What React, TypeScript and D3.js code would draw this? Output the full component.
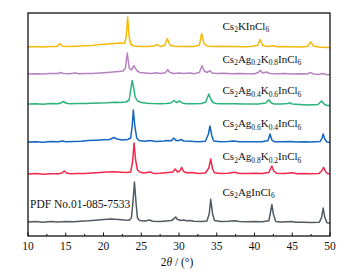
import React from "react";
import * as d3 from "d3";

const W = 354;
const H = 277;
const margin = { left: 28, right: 24, top: 13, bottom: 41 };

const xTicks = [10, 15, 20, 25, 30, 35, 40, 45, 50];
const xMinorTicks = [12.5, 17.5, 22.5, 27.5, 32.5, 37.5, 42.5, 47.5];

const seriesNames = ["Cs2AgInCl6", "Cs2Ag0.8K0.2InCl6", "Cs2Ag0.6K0.4InCl6", "Cs2Ag0.4K0.6InCl6", "Cs2Ag0.2K0.8InCl6", "Cs2KInCl6"];
const seriesColors = ["#4f5a62", "#f0284c", "#1466c0", "#2bb37a", "#b882c2", "#f6b90a"];
const seriesOffsets = [14, 62, 94, 132, 162, 189];

// [2θ, relative intensity]
const grayData: [number, number][] = [
  [10, 0], [11, 0.5], [12, -0.3], [13, 0.4], [14, 0], [15, 0.6], [16, 0.2], [17, 0.8], [18, 1.2], [19, 1.8],
  [20, 2.5], [21, 3], [22, 2.6], [22.8, 2], [23.4, 1.8], [23.7, 4], [23.9, 20], [24.1, 40], [24.3, 20], [24.5, 4],
  [24.8, 1.5], [25.5, 1], [26.1, 2], [26.5, 0.8], [27.5, 0.5], [28.3, 1], [29, 1.5], [29.3, 3], [29.55, 5], [29.8, 2.5],
  [30.3, 1.5], [30.6, 2], [31, 1.2], [31.5, 1.6], [32, 0.8], [33, 0.5], [33.7, 1], [34.0, 8], [34.2, 22.7], [34.45, 8],
  [34.7, 1.5], [35.5, 0.5], [36.5, 0.8], [37.4, 1.3], [38, 0.5], [39, 0.3], [40, 0.4], [41, 0.2], [41.9, 1.2], [42.1, 9],
  [42.3, 17.4], [42.5, 8], [42.8, 0.6], [43.5, 0], [44.9, 0.6], [45.5, -0.3], [46.5, -0.2], [47.5, -0.5], [48.6, -0.3], [48.9, 5],
  [49.1, 14], [49.3, 5], [49.6, -0.8], [50, -1]
];
const redData: [number, number][] = [
  [10, 0], [11, 0.4], [12, -0.2], [13, 0.3], [14, 0.2], [14.5, 1], [14.8, 3], [15.1, 1], [15.6, 0.3], [16.5, 0.6],
  [17.5, 0.4], [18.5, 1], [19.5, 1.5], [20.5, 2], [21.5, 2.2], [22.3, 1.8], [23, 1.5], [23.6, 2], [23.85, 12], [24.05, 31],
  [24.25, 14], [24.5, 4], [24.8, 2], [25.3, 1], [26.2, 2], [26.6, 0.6], [27.5, 0.8], [28.5, 1.5], [29.2, 2], [29.5, 5],
  [29.8, 2], [30.1, 3], [30.35, 6.7], [30.6, 2.5], [31, 1.2], [31.8, 1.5], [32.5, 0.5], [33.5, 1], [33.95, 6], [34.2, 15],
  [34.45, 5], [34.7, 1.2], [35.5, 0.5], [36.5, 0.8], [37.4, 1.8], [38, 0.5], [39, 0.5], [40, 0.8], [41, 0.4], [41.9, 1.5],
  [42.1, 5], [42.3, 8], [42.55, 3], [42.9, 0.8], [44, 0.5], [45, 1.2], [45.6, 0.3], [46.5, 0.4], [47.5, 0.3], [48.5, 0.4],
  [48.9, 3], [49.15, 6.7], [49.4, 2.5], [49.7, 0.3], [50, 0.3]
];
const blueData: [number, number][] = [
  [10, 0], [11, 0.3], [12, -0.3], [13, 0.5], [14, 0.2], [14.6, 1], [15, 0.3], [16, 0.5], [17, 0.8], [18, 1.5],
  [19, 1.8], [20, 2.2], [20.8, 2.5], [21.4, 4.5], [21.8, 3], [22.5, 2], [23.2, 2.5], [23.6, 4], [23.8, 16], [23.95, 32],
  [24.15, 16], [24.4, 4], [24.7, 1.5], [25.5, 0.8], [26.2, 1.5], [27, 0.5], [28, 1], [28.5, 1.5], [29, 1.2], [29.3, 4],
  [29.6, 1.5], [30, 1.5], [30.3, 2.5], [30.6, 1], [31.5, 0.8], [32.5, 0.3], [33.5, 0.8], [33.9, 8], [34.1, 16], [34.35, 6],
  [34.6, 1], [35.5, 0.3], [36.5, 0.5], [37.2, 1], [38, 0.2], [39, 0.3], [40, 0.3], [41, 0.2], [41.8, 1.5], [42.05, 8],
  [42.3, 2], [42.6, 0.3], [43.5, 0.2], [44.8, 0.6], [45.5, 0], [46.5, 0.2], [47.5, 0], [48.7, 0.6], [48.95, 4], [49.1, 8],
  [49.3, 3], [49.6, 0], [50, -0.5]
];
const greenData: [number, number][] = [
  [10, 0], [11, 0.3], [12, -0.2], [13, 0.4], [14, 0.3], [14.4, 1.2], [14.7, 2.5], [15, 1], [15.5, 0.2], [16.5, 0.4],
  [17.5, 0.6], [18.5, 0.8], [19.5, 1], [20.5, 1.3], [21.5, 1.8], [22.2, 1.6], [23, 2], [23.4, 4], [23.6, 14], [23.8, 23.6],
  [24.0, 16], [24.2, 7], [24.5, 3], [25, 1.5], [25.8, 0.8], [26.5, 0.5], [27.5, 0.3], [28.3, 0.6], [28.9, 1], [29.35, 3.5],
  [29.65, 1.5], [30.1, 3], [30.4, 1], [31, 0.3], [32, 0.2], [33, 0.5], [33.55, 2], [33.95, 10], [34.2, 5], [34.5, 1.5],
  [34.9, 0.5], [35.5, 0.2], [36.5, 0.3], [37.5, 0.3], [38.5, 0], [39.5, 0], [40.5, 0], [41.5, 1], [41.9, 4.3], [42.2, 1.2],
  [42.6, 0], [43.5, 0], [44.4, 0.5], [44.7, 1.2], [45, 0], [46, -0.5], [47, -1], [48.4, -0.5], [48.9, 3], [49.2, 0],
  [49.6, -1.5], [50, -1.5]
];
const purpleData: [number, number][] = [
  [10, 0], [11, 0.3], [12, 0], [13, 0.5], [14, 0.5], [14.3, 1.5], [14.7, 0.5], [15.5, 0.3], [16.3, 1], [16.7, 0.3],
  [17.5, 0.6], [18.5, 0.5], [19.5, 1], [20.5, 1.5], [21.3, 2], [22, 2.5], [22.6, 3], [22.9, 6], [23.15, 21], [23.4, 6],
  [23.7, 4], [24.05, 8.3], [24.4, 3.5], [24.8, 1.5], [25.5, 1], [26.3, 0.5], [27, 1.2], [27.5, 0.4], [28.2, 1.2], [28.5, 4.3],
  [28.8, 1.5], [29.3, 0.5], [30, 1], [30.6, 0.5], [31.5, 1], [32, 0.3], [32.7, 1.5], [33.05, 8.3], [33.35, 3], [33.7, 1.5],
  [34.1, 3.3], [34.4, 1], [35, 0.5], [36, 0.8], [37, 0.3], [38, 0.5], [39, 0.2], [40, 0.3], [40.5, 1.5], [40.75, 3.6],
  [41.1, 1], [41.6, 2], [42, 0.5], [43, 0.3], [44, 0.5], [45, 0], [46, 0.3], [47, 0], [47.4, 1.6], [47.8, 0],
  [48.5, -0.5], [49, 0.5], [49.5, -0.5], [50, -0.7]
];
const yellowData: [number, number][] = [
  [10, 0], [11, 0.4], [12, 0], [13, 0.5], [13.8, 0.6], [14.2, 3.4], [14.6, 0.8], [15.5, 0.5], [16.5, 0.8], [17.5, 1.2],
  [18.5, 1.5], [19.5, 2.5], [20.5, 3], [21.5, 3.5], [22.3, 4], [22.8, 3.5], [23.0, 10], [23.2, 30], [23.4, 10], [23.6, 3],
  [24, 1], [25, 0.5], [26, 0.6], [26.7, 1], [27.1, 2.4], [27.5, 0.6], [28.1, 1.5], [28.45, 8.4], [28.8, 2], [29.3, 0.8],
  [30, 0.5], [31, 0.4], [32, 0.5], [32.7, 2], [33.0, 13.4], [33.3, 4], [33.7, 1], [34.5, 0.5], [35.5, 0.8], [36.5, 0.4],
  [37.5, 0.5], [38.5, 0.3], [39.5, 0.4], [40.4, 1.5], [40.75, 7.4], [41.1, 1.5], [41.8, 0.5], [42.5, 1.2], [43, 0.3], [44, 0.5],
  [45, 0.2], [46, 0], [47, 0.5], [47.45, 5], [47.8, 1], [48.5, 0], [49.5, -0.5], [50, -0.6]
];
const seriesData = [grayData, redData, blueData, greenData, purpleData, yellowData];

// label parts: [text, isSub]
const labelParts: [string, boolean][][] = [
  [["Cs", false], ["2", true], ["AgInCl", false], ["6", true]],
  [["Cs", false], ["2", true], ["Ag", false], ["0.8", true], ["K", false], ["0.2", true], ["InCl", false], ["6", true]],
  [["Cs", false], ["2", true], ["Ag", false], ["0.6", true], ["K", false], ["0.4", true], ["InCl", false], ["6", true]],
  [["Cs", false], ["2", true], ["Ag", false], ["0.4", true], ["K", false], ["0.6", true], ["InCl", false], ["6", true]],
  [["Cs", false], ["2", true], ["Ag", false], ["0.2", true], ["K", false], ["0.8", true], ["InCl", false], ["6", true]],
  [["Cs", false], ["2", true], ["KInCl", false], ["6", true]],
];
const labelBaselines = [195.5, 160, 127, 94, 62.5, 29.5];
const pdfLabel = "PDF No.01-085-7533";

const FONT = "'Liberation Serif', 'Times New Roman', serif";

export default function App() {
  const x = d3.scaleLinear().domain([10, 50]).range([margin.left, W - margin.right]);
  const y = d3.scaleLinear().domain([0, 223]).range([H - margin.bottom, margin.top]);
  const bottom = H - margin.bottom;

  return (
    <svg width={W} height={H} style={{ position: "absolute", left: 0, top: 0, background: "#fff" }}>
      <rect x={0} y={0} width={W} height={H} fill="#fff" />
      {seriesData.map((data, i) => {
        const line = d3
          .line<[number, number]>()
          .x((d) => x(d[0]))
          .y((d) => y(d[1] + seriesOffsets[i]));
        return (
          <path key={seriesNames[i]} d={line(data) || ""} fill="none" stroke={seriesColors[i]} strokeWidth={1.5} strokeLinejoin="round" />
        );
      })}
      <rect
        x={margin.left}
        y={margin.top}
        width={W - margin.left - margin.right}
        height={H - margin.top - margin.bottom}
        fill="none"
        stroke="#111"
        strokeWidth={1.3}
      />
      {xTicks.map((t) => (
        <g key={"t" + t}>
          <line x1={x(t)} x2={x(t)} y1={bottom} y2={bottom - 3.5} stroke="#111" strokeWidth={1} />
          <text x={x(t)} y={249.5} textAnchor="middle" fontFamily={FONT} fontSize={11.5} fill="#111">
            {t}
          </text>
        </g>
      ))}
      {xMinorTicks.map((t) => (
        <line key={"m" + t} x1={x(t)} x2={x(t)} y1={bottom} y2={bottom - 2} stroke="#111" strokeWidth={1} />
      ))}
      <text x={177} y={266} textAnchor="middle" fontFamily={FONT} fontSize={11.5} fill="#111">
        <tspan>2</tspan>
        <tspan fontStyle="italic">θ</tspan>
        <tspan> / (°)</tspan>
      </text>
      {labelParts.map((parts, i) => (
        <text key={"l" + i} x={222.5} y={labelBaselines[i]} fontFamily={FONT} fontSize={11} fill="#111">
          {parts.map((p, j) => (
            <tspan key={j} fontSize={p[1] ? 7.5 : 11} dy={p[1] ? 2.5 : j > 0 ? -2.5 : 0}>
              {p[0]}
            </tspan>
          ))}
        </text>
      ))}
      <text x={30} y={208.3} fontFamily={FONT} fontSize={11.5} fill="#111">
        {pdfLabel}
      </text>
    </svg>
  );
}
